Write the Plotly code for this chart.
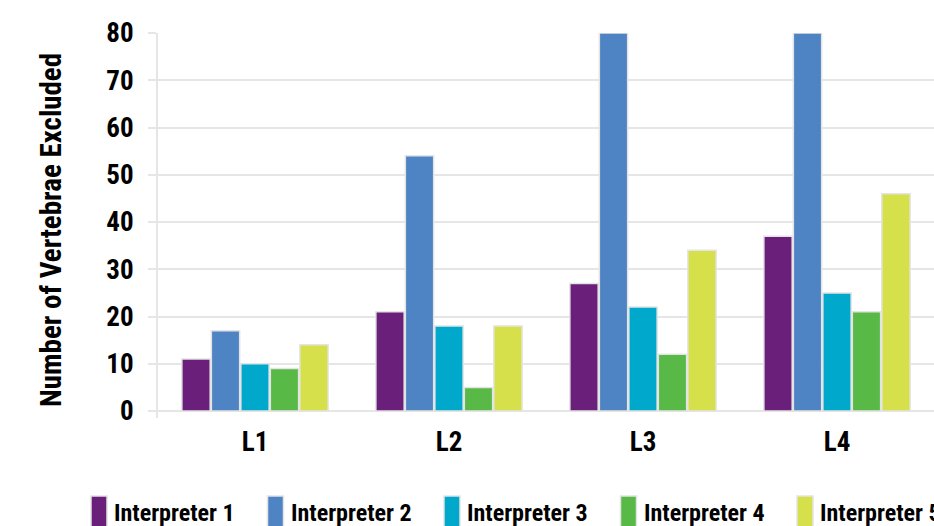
import plotly.graph_objects as go

# Lumbar levels and exclusions per interpreter
levels = ["L1", "L2", "L3", "L4"]
interpreters = ["Interpreter 1", "Interpreter 2", "Interpreter 3", "Interpreter 4", "Interpreter 5"]
interp1 = [11, 21, 27, 37]
interp2 = [17, 54, 80, 80]
interp3 = [10, 18, 22, 25]
interp4 = [9, 5, 12, 21]
interp5 = [14, 18, 34, 46]
y_ticks = [0, 10, 20, 30, 40, 50, 60, 70, 80]

series = [interp1, interp2, interp3, interp4, interp5]
colors = ["#6a1f7a", "#4f84c4", "#00a9cc", "#58b947", "#d5e04a"]

W, H = 934, 526
ML, MR, MT, MB = 158, 0, 33, 108
FONT = "Roboto Condensed, Roboto, sans-serif"
GRID = "#e6e6e6"

fig = go.Figure()
for name, vals, col in zip(interpreters, series, colors):
    fig.add_trace(go.Bar(
        name=name, x=levels, y=vals,
        marker=dict(color=col, line=dict(color="#e4e4e4", width=1.5)),
        showlegend=False,
    ))


def px_x(p):
    return (p - ML) / (W - ML - MR)


def px_y(p):
    return (H - MB - p) / (H - MT - MB)


shapes = []
annotations = []
# Manual legend: tall swatches with labels along the bottom
for i, (name, col) in enumerate(zip(interpreters, colors)):
    left = 91 + i * 176.5
    shapes.append(dict(
        type="rect", xref="paper", yref="paper",
        x0=px_x(left), x1=px_x(left + 16), y0=px_y(530), y1=px_y(496),
        fillcolor=col, line=dict(color="#e4e4e4", width=1.5), layer="above",
    ))
    annotations.append(dict(
        xref="paper", yref="paper", x=px_x(left + 21), y=px_y(512.5),
        xanchor="left", yanchor="middle", text=name, showarrow=False,
        font=dict(family=FONT, size=24, color="#000000", weight="bold"),
    ))

annotations.append(dict(
    xref="paper", yref="paper", x=px_x(51), y=px_y(230),
    xanchor="center", yanchor="middle", textangle=-90,
    text="Number of Vertebrae Excluded", showarrow=False,
    font=dict(family=FONT, size=29, color="#000000", weight="bold"),
))

fig.update_layout(
    width=W, height=H,
    margin=dict(l=ML, r=MR, t=MT, b=MB),
    paper_bgcolor="white", plot_bgcolor="white",
    barmode="group", bargap=0.24, bargroupgap=0.04,
    font=dict(family=FONT, color="#000000", weight="bold"),
    shapes=shapes, annotations=annotations,
    xaxis=dict(
        showgrid=False, showline=False, zeroline=False, ticks="",
        tickfont=dict(family=FONT, size=27, color="#000000", weight="bold"),
        ticklabelstandoff=5,
    ),
    yaxis=dict(
        range=[-1.48, 80], tickvals=y_ticks, ticktext=[str(v) for v in y_ticks],
        showgrid=True, gridcolor=GRID, gridwidth=2,
        zeroline=False,
        showline=True, linecolor=GRID, linewidth=2,
        ticks="outside", ticklen=8, tickcolor=GRID, tickwidth=2,
        ticklabelstandoff=9,
        tickfont=dict(family=FONT, size=27, color="#000000", weight="bold"),
    ),
)

fig.write_html("out.html")
